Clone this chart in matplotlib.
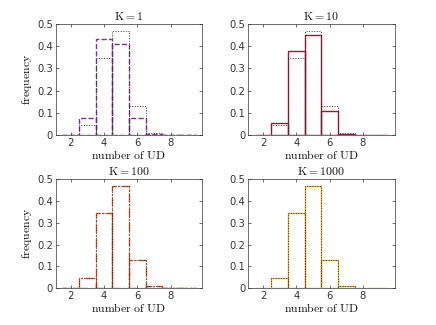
import matplotlib
matplotlib.use("Agg")
import matplotlib.pyplot as plt
import numpy as np

plt.rcParams['mathtext.fontset'] = 'cm'
plt.rcParams['font.family'] = 'DejaVu Sans'

bins = [2, 3, 4, 5, 6, 7, 8, 9]
ref = [0.0, 0.045, 0.345, 0.47, 0.13, 0.01, 0.001, 0.0]
k1 = [0.0, 0.078, 0.432, 0.408, 0.078, 0.003, 0.001, 0.0]
k10 = [0.0, 0.055, 0.38, 0.45, 0.11, 0.005, 0.0, 0.0]
k100 = [0.0, 0.046, 0.345, 0.468, 0.131, 0.009, 0.001, 0.0]
k1000 = [0.0, 0.046, 0.345, 0.468, 0.131, 0.009, 0.001, 0.0]

titles = ['K=1', 'K=10', 'K=100', 'K=1000']
series = [k1, k10, k100, k1000]
colors = ['#7E2F8E', '#A2142F', '#D95319', '#EDB120']
styles = ['--', '-', '-.', '-']
yticks = [0, 0.1, 0.2, 0.3, 0.4, 0.5]
ytick_labels = ['0', '0.1', '0.2', '0.3', '0.4', '0.5']
xticks = [2, 4, 6, 8]

fig = plt.figure(figsize=(4.36, 3.25), dpi=100)
W, H = 436, 325
boxes = [(55.7, 24, 146.5, 111), (248, 24, 146.5, 111),
         (55.7, 179, 146.5, 109.3), (248, 179, 146.5, 109.3)]

for i, (x0, y0, w, h) in enumerate(boxes):
    ax = fig.add_axes([x0 / W, 1 - (y0 + h) / H, w / W, h / H])
    ax.bar(bins, series[i], width=1.0, fill=False, edgecolor=colors[i],
           linestyle=styles[i], linewidth=1.0, zorder=2)
    ax.bar(bins, ref, width=1.0, fill=False, edgecolor='#333333',
           linestyle=':', linewidth=0.7, zorder=3)
    ax.set_xlim(1.1, 9.9)
    ax.set_ylim(0, 0.5)
    ax.set_xticks(xticks)
    ax.set_yticks(yticks)
    ax.set_yticklabels(ytick_labels)
    ax.tick_params(direction='in', length=2.5, width=0.5, top=True, right=True,
                   labelsize=7.2, colors='#333333', pad=2)
    for s in ax.spines.values():
        s.set_color('#333333')
        s.set_linewidth(0.5)
    ax.set_title(r'$\mathrm{' + titles[i] + '}$', fontsize=8.5, pad=3, color='#111111')
    ax.set_xlabel(r'$\mathrm{number\ of\ UD}$', fontsize=8.5, labelpad=1, color='#111111')
    if i % 2 == 0:
        ax.set_ylabel(r'$\mathrm{frequency}$', fontsize=8.5, labelpad=2, color='#111111')

fig.savefig('out.png', dpi=100)
